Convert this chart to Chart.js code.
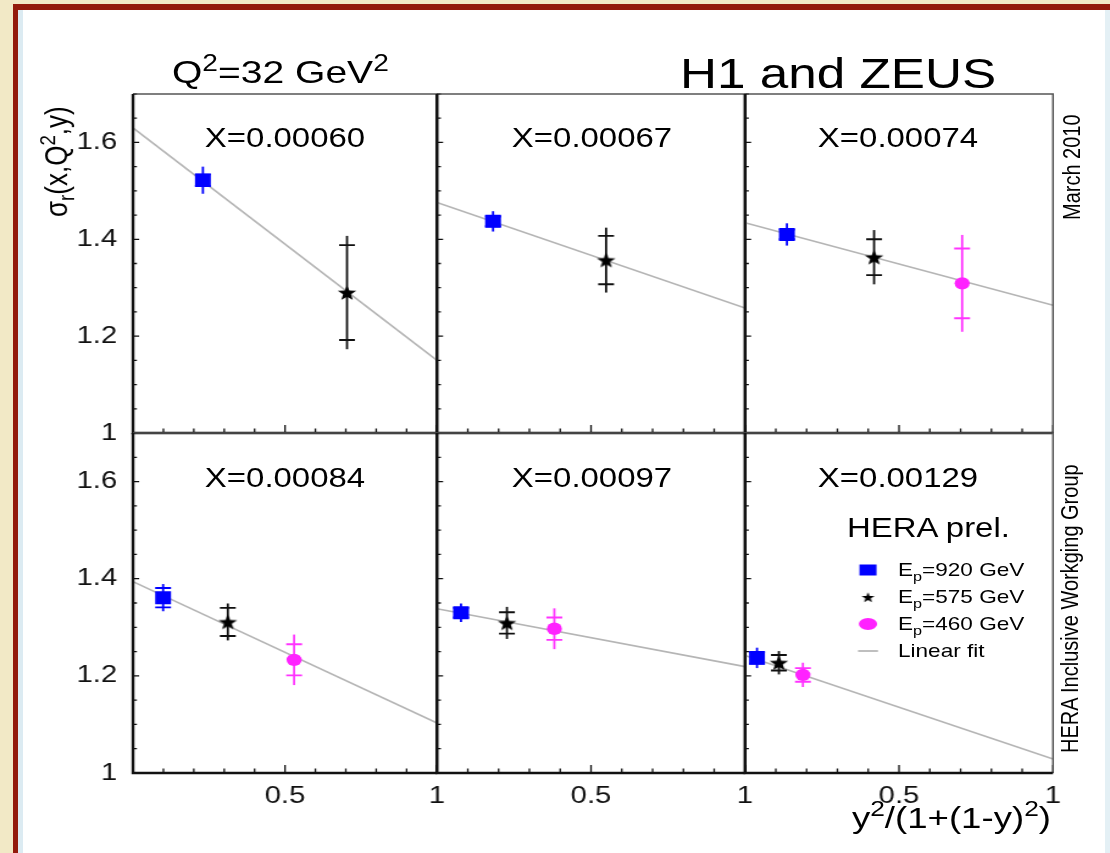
<!DOCTYPE html>
<html>
<head>
<meta charset="utf-8">
<title>H1 and ZEUS reduced cross section</title>
<script src="https://cdn.jsdelivr.net/npm/chart.js@4.4.1/dist/chart.umd.min.js"></script>
<style>
  body { margin: 0; background: #f2e9c6; }
  #page { position: relative; width: 1110px; height: 853px; overflow: hidden; background: #f2e9c6; }
  #sheet { position: absolute; left: 13px; top: 4px; width: 1200px; height: 900px; background: #fff;
           border-left: 5px solid #931a0b; border-top: 6px solid #931a0b; }
  #edgeL { position: absolute; left: 18px; top: 10px; width: 5px; height: 843px; background: #dcebf2; }
  #edgeR { position: absolute; left: 1105px; top: 10px; width: 5px; height: 843px; background: #e4f0f5; }
  #stage { position: absolute; left: 0; top: 0; width: 910px; height: 853px; transform-origin: 0 0;
           font-family: "Liberation Sans", Arial, Helvetica, sans-serif; color: #000; }
  #stage canvas { position: absolute; left: 0; top: 0; }
  .t { position: absolute; white-space: nowrap; line-height: 1; }
  .sup { font-size: 0.72em; position: relative; top: -0.52em; }
  .sub { font-size: 0.72em; position: relative; top: 0.32em; }
</style>
</head>
<body>
<div id="page">
  <div id="sheet"></div>
  <div id="edgeL"></div>
  <div id="edgeR"></div>
  <div id="stage"></div>
</div>
<script>
// bin labels, one per panel (row by row)
const binLabels = ['X=0.00060', 'X=0.00067', 'X=0.00074', 'X=0.00084', 'X=0.00097', 'X=0.00129'];

// Ep = 920 GeV
const x920 = [0.23, 0.182, 0.136, 0.099, 0.078, 0.039];
const y920 = [1.522, 1.437, 1.41, 1.361, 1.33, 1.237];
const stat920 = [0.012, 0.01, 0.01, 0.02, 0.01, 0.012];
const tot920 = [0.028, 0.021, 0.023, 0.028, 0.019, 0.021];

// Ep = 575 GeV
const x575 = [0.704, 0.549, 0.419, 0.312, 0.227, 0.11];
const y575 = [1.29, 1.357, 1.363, 1.311, 1.309, 1.227];
const stat575 = [0.098, 0.05, 0.037, 0.029, 0.022, 0.016];
const tot575 = [0.117, 0.067, 0.056, 0.038, 0.033, 0.024];

// Ep = 460 GeV (nothing in the two lowest x bins)
const x460 = [null, null, 0.705, 0.53, 0.381, 0.188];
const y460 = [null, null, 1.309, 1.233, 1.297, 1.202];
const stat460 = [null, null, 0.072, 0.032, 0.023, 0.014];
const tot460 = [null, null, 0.1, 0.052, 0.042, 0.025];

// linear fit: value at x=0 and at x=1
const fitAt0 = [1.63, 1.476, 1.434, 1.394, 1.338, 1.242];
const fitAt1 = [1.15, 1.258, 1.264, 1.103, 1.219, 1.029];

const yTickLabels = [1, 1.2, 1.4, 1.6];
const xTickLabels = [0.5, 1];

// the plots are drawn in a narrower box and stretched sideways
const S = 1110 / 910;
const W = 910, H = 853;
const colX = [133, 437, 745, 1053];
const rowY = [94, 433, 773];
const AXW = 70, AXH = 30;

const stage = document.getElementById('stage');
stage.style.transform = 'scaleX(' + S + ')';

function put(html, x, baseline, size, align) {
  const d = document.createElement('div');
  d.className = 't';
  d.innerHTML = html;
  d.style.fontSize = size + 'px';
  d.style.left = (x / S) + 'px';
  d.style.top = (baseline - 0.8465 * size) + 'px';
  if (align === 'center') d.style.transform = 'translateX(-50%)';
  if (align === 'right') d.style.transform = 'translateX(-100%)';
  stage.appendChild(d);
  return d;
}

function putUp(html, baseX, bottom, size) {
  const d = document.createElement('div');
  d.className = 't';
  d.innerHTML = html;
  d.style.fontSize = size + 'px';
  d.style.left = (baseX / S - 0.8465 * size) + 'px';
  d.style.top = bottom + 'px';
  d.style.transformOrigin = '0 0';
  d.style.transform = 'rotate(-90deg)';
  stage.appendChild(d);
  return d;
}

function starImage(size, color) {
  const c = document.createElement('canvas');
  c.width = size; c.height = size;
  const g = c.getContext('2d');
  const R = size / 2 - 0.5, r = R * 0.42, m = size / 2;
  g.fillStyle = color;
  g.beginPath();
  for (let k = 0; k < 10; k++) {
    const a = -Math.PI / 2 + k * Math.PI / 5;
    const rr = k % 2 ? r : R;
    g.lineTo(m + rr * Math.cos(a), m + 0.8 + rr * Math.sin(a));
  }
  g.closePath();
  g.fill();
  return c;
}
const starMark = starImage(17, '#000');
const starSmall = starImage(12, '#000');

// vertical error bar (total) with short cross bars at the statistical error
const errorBars = {
  id: 'errorBars',
  beforeDatasetDraw(chart, args) {
    const ds = chart.data.datasets[args.index];
    if (ds.errTot == null) return;
    const { ctx, scales: { x, y } } = chart;
    ctx.save();
    ctx.strokeStyle = ds.barColor;
    ds.data.forEach(p => {
      const px = x.getPixelForValue(p.x);
      ctx.lineWidth = 1.8;
      ctx.beginPath();
      ctx.moveTo(px, y.getPixelForValue(p.y - ds.errTot));
      ctx.lineTo(px, y.getPixelForValue(p.y + ds.errTot));
      ctx.stroke();
      ctx.lineWidth = 1.9;
      ctx.beginPath();
      for (const s of [-1, 1]) {
        const py = y.getPixelForValue(p.y + s * ds.errStat);
        ctx.moveTo(px - 6.5, py);
        ctx.lineTo(px + 6.5, py);
      }
      ctx.stroke();
    });
    ctx.restore();
  }
};

// frame with inward ticks on the left and bottom axes
const frame = {
  id: 'frame',
  afterDraw(chart) {
    const { ctx, chartArea: a, scales: { x, y } } = chart;
    ctx.save();
    ctx.strokeStyle = '#111';
    ctx.lineWidth = 1.3;
    ctx.beginPath();
    for (let k = 0; k <= 14; k++) {
      const v = 1 + k * 0.05;
      const py = y.getPixelForValue(v);
      const len = k % 4 === 0 ? 5 : 3.2;
      ctx.moveTo(a.left, py);
      ctx.lineTo(a.left + len, py);
    }
    for (let k = 0; k <= 10; k++) {
      const px = x.getPixelForValue(k / 10);
      const len = k % 5 === 0 ? 8 : 4.5;
      ctx.moveTo(px, a.bottom);
      ctx.lineTo(px, a.bottom - len);
    }
    ctx.stroke();
    ctx.strokeStyle = '#555';
    ctx.lineWidth = 1.5;
    ctx.beginPath();
    ctx.moveTo(a.left, a.top);
    ctx.lineTo(a.right, a.top);
    ctx.lineTo(a.right, a.bottom);
    ctx.stroke();
    ctx.strokeStyle = '#111';
    ctx.lineWidth = 2.4;
    ctx.beginPath();
    ctx.moveTo(a.left, a.top);
    ctx.lineTo(a.left, a.bottom);
    ctx.lineTo(a.right, a.bottom);
    ctx.stroke();
    ctx.restore();
  }
};

// legend marks for the last panel
const legendMarks = {
  id: 'legendMarks',
  afterDraw(chart) {
    if (!chart.options.plugins.legendMarks.show) return;
    const ctx = chart.ctx;
    const lx = 868 / S;
    ctx.save();
    ctx.fillStyle = '#0000ff';
    ctx.fillRect(lx - 7, 570 - 5.5, 14, 11);
    ctx.drawImage(starSmall, lx - 6, 597 - 6);
    ctx.fillStyle = '#ff22ff';
    ctx.beginPath();
    ctx.ellipse(lx, 624, 7.5, 6, 0, 0, Math.PI * 2);
    ctx.fill();
    ctx.strokeStyle = '#aaa';
    ctx.lineWidth = 1.5;
    ctx.beginPath();
    ctx.moveTo(858 / S, 651);
    ctx.lineTo(878 / S, 651);
    ctx.stroke();
    ctx.restore();
  }
};

const tickFont = { family: '"Liberation Sans", Arial, sans-serif', size: 24 };

for (let i = 0; i < 6; i++) {
  const r = Math.floor(i / 3), c = i % 3;
  const L = colX[c] / S, R = colX[c + 1] / S, T = rowY[r], B = rowY[r + 1];

  const canvas = document.createElement('canvas');
  canvas.width = W; canvas.height = H;
  stage.appendChild(canvas);

  const datasets = [
    { label: 'Ep=920 GeV', data: [{ x: x920[i], y: y920[i] }], pointStyle: 'rect', pointRadius: 9.2,
      backgroundColor: '#0000ff', barColor: '#0000ff', pointBorderWidth: 0,
      errStat: stat920[i], errTot: tot920[i] },
    { label: 'Ep=575 GeV', data: [{ x: x575[i], y: y575[i] }], pointStyle: starMark, pointRadius: 8,
      backgroundColor: '#000', barColor: '#111', pointBorderWidth: 0,
      errStat: stat575[i], errTot: tot575[i] }
  ];
  if (x460[i] != null) {
    datasets.push({ label: 'Ep=460 GeV', data: [{ x: x460[i], y: y460[i] }], pointStyle: 'circle', pointRadius: 6.2,
      backgroundColor: '#ff22ff', barColor: '#ff33ff', pointBorderWidth: 0,
      errStat: stat460[i], errTot: tot460[i] });
  }
  datasets.push({ type: 'line', label: 'Linear fit', data: [{ x: 0, y: fitAt0[i] }, { x: 1, y: fitAt1[i] }],
    borderColor: '#b5b5b5', borderWidth: 1.6, pointRadius: 0, fill: false });

  new Chart(canvas, {
    type: 'scatter',
    data: { datasets },
    options: {
      responsive: false,
      animation: false,
      devicePixelRatio: 1,
      layout: { padding: { left: L - AXW, top: T, right: W - R, bottom: H - B - AXH } },
      plugins: {
        legend: { display: false },
        tooltip: { enabled: false },
        legendMarks: { show: i === 5 }
      },
      scales: {
        x: {
          type: 'linear', min: 0, max: 1,
          grid: { display: false }, border: { display: false },
          afterFit: s => { s.height = AXH; },
          afterBuildTicks: s => { s.ticks = xTickLabels.map(v => ({ value: v })); },
          ticks: { display: r === 1, font: tickFont, color: '#111', padding: 1, maxRotation: 0, autoSkip: false,
                   callback: v => String(v) }
        },
        y: {
          type: 'linear', min: 1, max: 1.7,
          grid: { display: false }, border: { display: false },
          afterFit: s => { s.width = AXW; },
          afterBuildTicks: s => { s.ticks = yTickLabels.map(v => ({ value: v })); },
          ticks: { display: c === 0, font: tickFont, color: '#111', padding: 5, autoSkip: false,
                   callback: v => String(v) }
        }
      }
    },
    plugins: [errorBars, frame, legendMarks]
  });
}

// titles and annotations
put('Q<span class="sup">2</span>=32 GeV<span class="sup">2</span>', 172, 83, 32);
put('H1 and ZEUS', 680, 89, 42);
const centers = [285, 592, 898];
binLabels.forEach((t, i) => {
  put(t, centers[i % 3], i < 3 ? 148 : 488, 27, 'center');
});
put('HERA prel.', 847, 538, 27);
put('E<span class="sub">p</span>=920 GeV', 898, 577, 18.5);
put('E<span class="sub">p</span>=575 GeV', 898, 604, 18.5);
put('E<span class="sub">p</span>=460 GeV', 898, 631, 18.5);
put('Linear fit', 898, 658, 18.5);
put('y<span class="sup">2</span>/(1+(1-y)<span class="sup">2</span>)', 1051, 828, 30, 'right');
putUp('&sigma;<span class="sub">r</span>(x,Q<span class="sup">2</span>,y)', 67, 217, 26);
putUp('March 2010', 1080, 220, 20);
putUp('HERA Inclusive Workging Group', 1078, 753, 20);
</script>
</body>
</html>
